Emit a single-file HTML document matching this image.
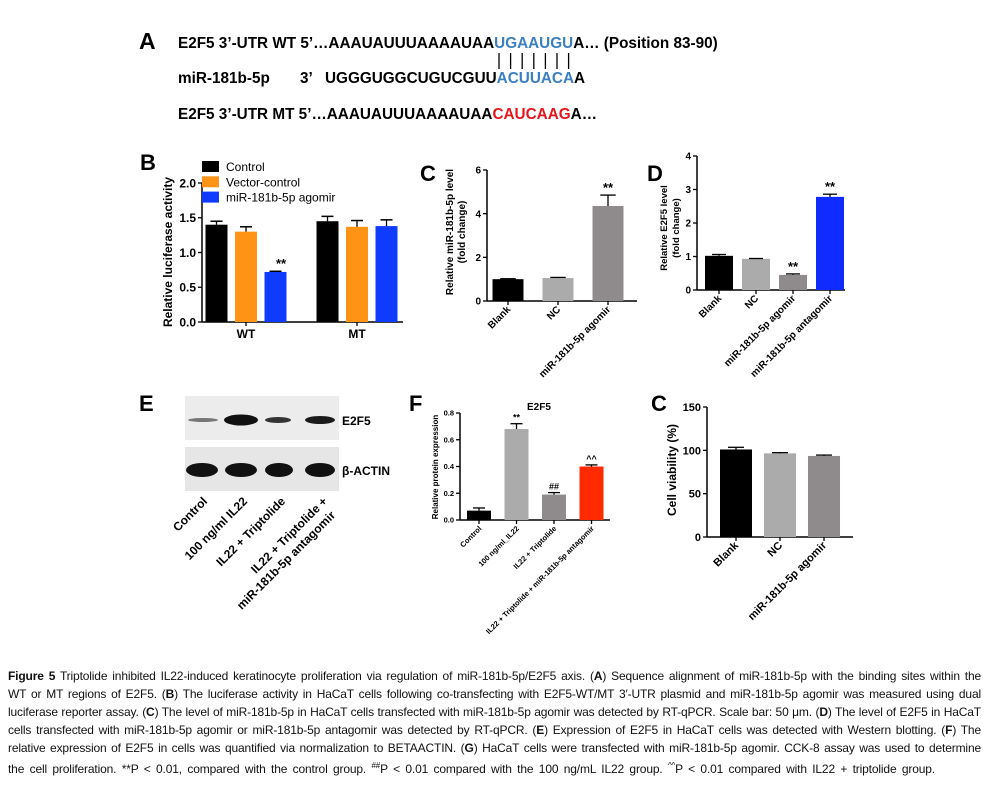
<!DOCTYPE html>
<html><head><meta charset="utf-8">
<style>
html,body{margin:0;padding:0;background:#fff;width:997px;height:794px;overflow:hidden;}
svg{position:absolute;left:0;top:0;}
.cap{position:absolute;left:8px;width:973px;font-family:"Liberation Sans",sans-serif;font-size:12px;letter-spacing:-0.15px;line-height:18px;color:#111;text-align:justify;text-align-last:justify;white-space:nowrap;}
.cap b{font-weight:bold;}
</style></head>
<body>
<svg id="fig" width="997" height="794" xmlns="http://www.w3.org/2000/svg" font-family="Liberation Sans, Arial, sans-serif">
  <!-- Panel A -->
  <g font-weight="bold" font-size="15.3">
    <text x="139" y="49" font-size="23">A</text>
    <text x="178" y="48">E2F5 3’-UTR WT 5’…AAAUAUUUAAAAUAA<tspan fill="#3a7fc1">UGAAUGU</tspan>A… (Position 83-90)</text>
    <text x="178" y="83">miR-181b-5p</text>
    <text x="300" y="83">3’</text>
    <text x="325" y="83">UGGGUGGCUGUCGUU<tspan fill="#3a7fc1">ACUUACA</tspan>A</text>
    <text x="178" y="119">E2F5 3’-UTR MT 5’…AAAUAUUUAAAAUAA<tspan fill="#e8141b">CAUCAAG</tspan>A…</text>
    <g id="pairs" stroke="#000" stroke-width="1.3"></g>
  </g>
  <g id="charts"></g>
  <!-- Panel E blot -->
  <g>
    <text x="139" y="411" font-size="22" font-weight="bold">E</text>
    <rect x="185" y="396" width="154" height="44" fill="#ececec"/>
    <rect x="185" y="447" width="154" height="44" fill="#e6e6e6"/>
    <ellipse cx="203" cy="420" rx="15" ry="2" fill="#777"/>
    <ellipse cx="241" cy="420" rx="17" ry="5.5" fill="#111"/>
    <ellipse cx="278" cy="420" rx="13" ry="3" fill="#333"/>
    <ellipse cx="320" cy="420" rx="15" ry="4" fill="#1a1a1a"/>
    <ellipse cx="202" cy="470" rx="16" ry="7" fill="#111"/>
    <ellipse cx="241" cy="470" rx="16" ry="7" fill="#111"/>
    <ellipse cx="279" cy="470" rx="14" ry="7" fill="#111"/>
    <ellipse cx="320" cy="470" rx="15" ry="7" fill="#111"/>
    <text x="342" y="425" font-size="12" font-weight="bold">E2F5</text>
    <text x="342" y="475" font-size="12" font-weight="bold">β-ACTIN</text>
    <g font-size="12" font-weight="bold" text-anchor="end">
      <text transform="translate(208,502) rotate(-45)">Control</text>
      <text transform="translate(248,502) rotate(-45)">100 ng/ml IL22</text>
      <text transform="translate(286,502) rotate(-45)">IL22 + Triptolide</text>
      <text transform="translate(328,502) rotate(-45)">IL22 + Triptolide +</text>
      <text transform="translate(336,516) rotate(-45)">miR-181b-5p antagomir</text>
    </g>
  </g>
</svg>

<div class="cap" style="top:667px"><b>Figure 5</b> Triptolide inhibited IL22-induced keratinocyte proliferation via regulation of miR-181b-5p/E2F5 axis. (<b>A</b>) Sequence alignment of miR-181b-5p with the binding sites within the</div>
<div class="cap" style="top:685px">WT or MT regions of E2F5. (<b>B</b>) The luciferase activity in HaCaT cells following co-transfecting with E2F5-WT/MT 3′-UTR plasmid and miR-181b-5p agomir was measured using dual</div>
<div class="cap" style="top:703px">luciferase reporter assay. (<b>C</b>) The level of miR-181b-5p in HaCaT cells transfected with miR-181b-5p agomir was detected by RT-qPCR. Scale bar: 50 μm. (<b>D</b>) The level of E2F5 in HaCaT</div>
<div class="cap" style="top:721px">cells transfected with miR-181b-5p agomir or miR-181b-5p antagomir was detected by RT-qPCR. (<b>E</b>) Expression of E2F5 in HaCaT cells was detected with Western blotting. (<b>F</b>) The</div>
<div class="cap" style="top:739px">relative expression of E2F5 in cells was quantified via normalization to BETAACTIN. (<b>G</b>) HaCaT cells were transfected with miR-181b-5p agomir. CCK-8 assay was used to determine</div>
<div class="cap" style="top:757px;width:927px">the cell proliferation. **P &lt; 0.01, compared with the control group. <sup style="font-size:8px">##</sup>P &lt; 0.01 compared with the 100 ng/mL IL22 group. <sup style="font-size:8px">^^</sup>P &lt; 0.01 compared with IL22 + triptolide group.</div>

<script>
// ---- Panel B data ----
const bGroups = ["WT", "MT"];
const bSeries = ["Control", "Vector-control", "miR-181b-5p agomir"];
const bControl = [1.40, 1.45];
const bVector = [1.30, 1.37];
const bAgomir = [0.72, 1.38];
const bControlErr = [0.05, 0.07];
const bVectorErr = [0.07, 0.09];
const bAgomirErr = [0.01, 0.09];
const bTicks = [0, 0.5, 1.0, 1.5, 2.0];
const bTickLabels = ["0.0", "0.5", "1.0", "1.5", "2.0"];
// ---- Panel C data ----
const cCats = ["Blank", "NC", "miR-181b-5p agomir"];
const cVals = [1.0, 1.05, 4.35];
const cErr = [0.02, 0.03, 0.5];
const cSig = ["", "", "**"];
const cTicks = [0, 2, 4, 6];
// ---- Panel D data ----
const dCats = ["Blank", "NC", "miR-181b-5p agomir", "miR-181b-5p antagomir"];
const dVals = [1.02, 0.93, 0.45, 2.78];
const dErr = [0.04, 0.01, 0.03, 0.08];
const dSig = ["", "", "**", "**"];
const dTicks = [0, 1, 2, 3, 4];
// ---- Panel F data ----
const fCats = ["Control", "100 ng/ml_IL22", "IL22 + Triptolide", "IL22 + Triptolide + miR-181b-5p antagomir"];
const fVals = [0.07, 0.68, 0.19, 0.40];
const fErr = [0.02, 0.04, 0.015, 0.012];
const fSig = ["", "**", "##", "^^"];
const fTicks = [0, 0.2, 0.4, 0.6, 0.8];
const fTickLabels = ["0.0", "0.2", "0.4", "0.6", "0.8"];
// ---- Panel G data ----
const gCats = ["Blank", "NC", "miR-181b-5p agomir"];
const gVals = [101, 96.5, 93.5];
const gErr = [2.5, 0.8, 1.0];
const gTicks = [0, 50, 100, 150];

const NS = "http://www.w3.org/2000/svg";
const root = document.getElementById("charts");
function mk(tag, attrs, parent) {
  const el = document.createElementNS(NS, tag);
  for (const k in attrs) el.setAttribute(k, attrs[k]);
  (parent || root).appendChild(el);
  return el;
}

// base pair lines in panel A
const pairs = document.getElementById("pairs");
for (let i = 0; i < 7; i++) {
  const ln = mk("line", {x1: 499 + i * 11.6, x2: 499 + i * 11.6, y1: 53, y2: 69}, pairs);
  
  
}

function axes(c) {
  const g = mk("g", {});
  
  
  const y = v => c.y0 - v / c.max * (c.y0 - c.yTop);
  mk("line", {x1: c.x0, x2: c.x0, y1: c.yTop, y2: c.y0, stroke: "#000", "stroke-width": 1.5}, g);
  mk("line", {x1: c.x0, x2: c.x1, y1: c.y0, y2: c.y0, stroke: "#000", "stroke-width": 1.5}, g);
  c.ticks.forEach((t, i) => {
    mk("line", {x1: c.x0 - 4, x2: c.x0, y1: y(t), y2: y(t), stroke: "#000", "stroke-width": 1.3}, g);
    const tx = mk("text", {x: c.x0 - 6, y: y(t) + c.fs * 0.36, "text-anchor": "end", "font-size": c.fs, "font-weight": "bold"}, g);
    tx.textContent = c.tickLabels ? c.tickLabels[i] : String(t);
    
    
  });
  return y;
}

function barChart(c) {
  const y = axes(c);
  const g = mk("g", {});
  
  
  c.cats.forEach((cat, i) => {
    const cx = c.x0 + c.off + i * c.step;
    const r = mk("rect", {x: cx - c.bw / 2, y: y(c.vals[i]), width: c.bw, height: c.y0 - y(c.vals[i]), fill: c.colors[i]}, g);
    
    
    const top = y(c.vals[i] + c.err[i]);
    mk("line", {x1: cx, x2: cx, y1: top, y2: y(c.vals[i]), stroke: c.errColor || "#000", "stroke-width": 1.3}, g);
    mk("line", {x1: cx - c.bw / 4, x2: cx + c.bw / 4, y1: top, y2: top, stroke: c.errColor || "#000", "stroke-width": 1.3}, g);
    mk("line", {x1: cx, x2: cx, y1: c.y0, y2: c.y0 + 4, stroke: "#000", "stroke-width": 1.3}, g);
    if (c.sig && c.sig[i]) {
      const s = mk("text", {x: cx, y: top - 3, "text-anchor": "middle", "font-size": c.sigFs, "font-weight": "bold"}, g);
      s.textContent = c.sig[i];
      
      
    }
    const lb = mk("text", {transform: `translate(${cx + 3},${c.y0 + 9}) rotate(-45)`, "text-anchor": "end", "font-size": c.xfs, "font-weight": "bold"}, g);
    lb.textContent = cat;
    
    
  });
}

function label(txt, x, yy, fs, bold, rot, name) {
  const t = mk("text", {x: x, y: yy, "font-size": fs, "font-weight": bold ? "bold" : "normal", "text-anchor": rot ? "middle" : "start"});
  if (rot) t.setAttribute("transform", `rotate(-90 ${x} ${yy})`);
  t.textContent = txt;
  
  
  return t;
}

// ---- Panel B ----
label("B", 140, 170, 22, true, false, "panel-b-label");
const bC = {name: "panel-b", x0: 202, x1: 403, yTop: 183, y0: 322, max: 2, ticks: bTicks, tickLabels: bTickLabels, fs: 12};
const yB = axes(bC);
const bColors = ["#000000", "#ff9316", "#0f3bff"];
const bData = [bControl, bVector, bAgomir];
const bErrs = [bControlErr, bVectorErr, bAgomirErr];
bGroups.forEach((gname, gi) => {
  const gc = 246 + gi * 111;
  bData.forEach((ser, si) => {
    const cx = gc + (si - 1) * 29.5;
    const r = mk("rect", {x: cx - 11, y: yB(ser[gi]), width: 22, height: 322 - yB(ser[gi]), fill: bColors[si]});
    
    
    const top = yB(ser[gi] + bErrs[si][gi]);
    mk("line", {x1: cx, x2: cx, y1: top, y2: yB(ser[gi]), stroke: "#000", "stroke-width": 1.3});
    mk("line", {x1: cx - 6, x2: cx + 6, y1: top, y2: top, stroke: "#000", "stroke-width": 1.5});
  });
  mk("line", {x1: gc, x2: gc, y1: 322, y2: 326, stroke: "#000", "stroke-width": 1.3});
  const gl = mk("text", {x: gc, y: 338, "text-anchor": "middle", "font-size": 12, "font-weight": "bold"});
  gl.textContent = gname;
  
  
});
label("**", 276, 268, 13, true, false, "significance-mark-b");
bSeries.forEach((s, i) => {
  const r = mk("rect", {x: 202, y: 161 + i * 15.3, width: 17, height: 11, fill: bColors[i]});
  
  
  label(s, 226, 171 + i * 15.3, 12, false, false, "legend-entry");
});
label("Relative luciferase activity", 172, 252, 12, true, true, "y-axis-title-b");

// ---- Panel C ----
label("C", 420, 181, 22, true, false, "panel-c-label");
barChart({name: "panel-c", x0: 487, x1: 637, yTop: 170, y0: 301, max: 6, ticks: cTicks, fs: 10,
  cats: cCats, vals: cVals, err: cErr, sig: cSig, sigFs: 13, off: 21, step: 50, bw: 31, xfs: 10,
  colors: ["#000000", "#ababab", "#8f8b8c"]});
label("Relative miR-181b-5p level", 453, 232, 10, true, true, "y-axis-title-c");
label("(fold change)", 465, 232, 10, true, true, "y-axis-title-c2");

// ---- Panel D ----
label("D", 647, 181, 22, true, false, "panel-d-label");
barChart({name: "panel-d", x0: 697, x1: 845, yTop: 156, y0: 290, max: 4, ticks: dTicks, fs: 10,
  cats: dCats, vals: dVals, err: dErr, sig: dSig, sigFs: 13, off: 22, step: 37, bw: 28, xfs: 10,
  colors: ["#000000", "#ababab", "#8f8b8c", "#0f2bff"]});
label("Relative E2F5 level", 667, 228, 9.5, true, true, "y-axis-title-d");
label("(fold change)", 679, 228, 9.5, true, true, "y-axis-title-d2");

// ---- Panel F ----
label("F", 409, 411, 22, true, false, "panel-f-label");
label("E2F5", 527, 410, 10, true, false, "chart-title-f");
barChart({name: "panel-f", x0: 460, x1: 610, yTop: 413, y0: 520, max: 0.8, ticks: fTicks, tickLabels: fTickLabels, fs: 7.5,
  cats: fCats, vals: fVals, err: fErr, sig: fSig, sigFs: 9, off: 19, step: 37.5, bw: 24, xfs: 7.5,
  colors: ["#000000", "#ababab", "#8f8b8c", "#ff2a00"]});
label("Relative protein expression", 438, 467, 8, true, true, "y-axis-title-f");

// ---- Panel G ----
label("C", 651, 411, 22, true, false, "panel-g-label");
barChart({name: "panel-g", x0: 707, x1: 853, yTop: 407, y0: 537, max: 150, ticks: gTicks, fs: 11,
  cats: gCats, vals: gVals, err: gErr, sig: null, sigFs: 12, off: 29, step: 44, bw: 32, xfs: 11,
  colors: ["#000000", "#ababab", "#8f8b8c"]});
label("Cell viability (%)", 676, 470, 12, true, true, "y-axis-title-g");
</script>
</body></html>
